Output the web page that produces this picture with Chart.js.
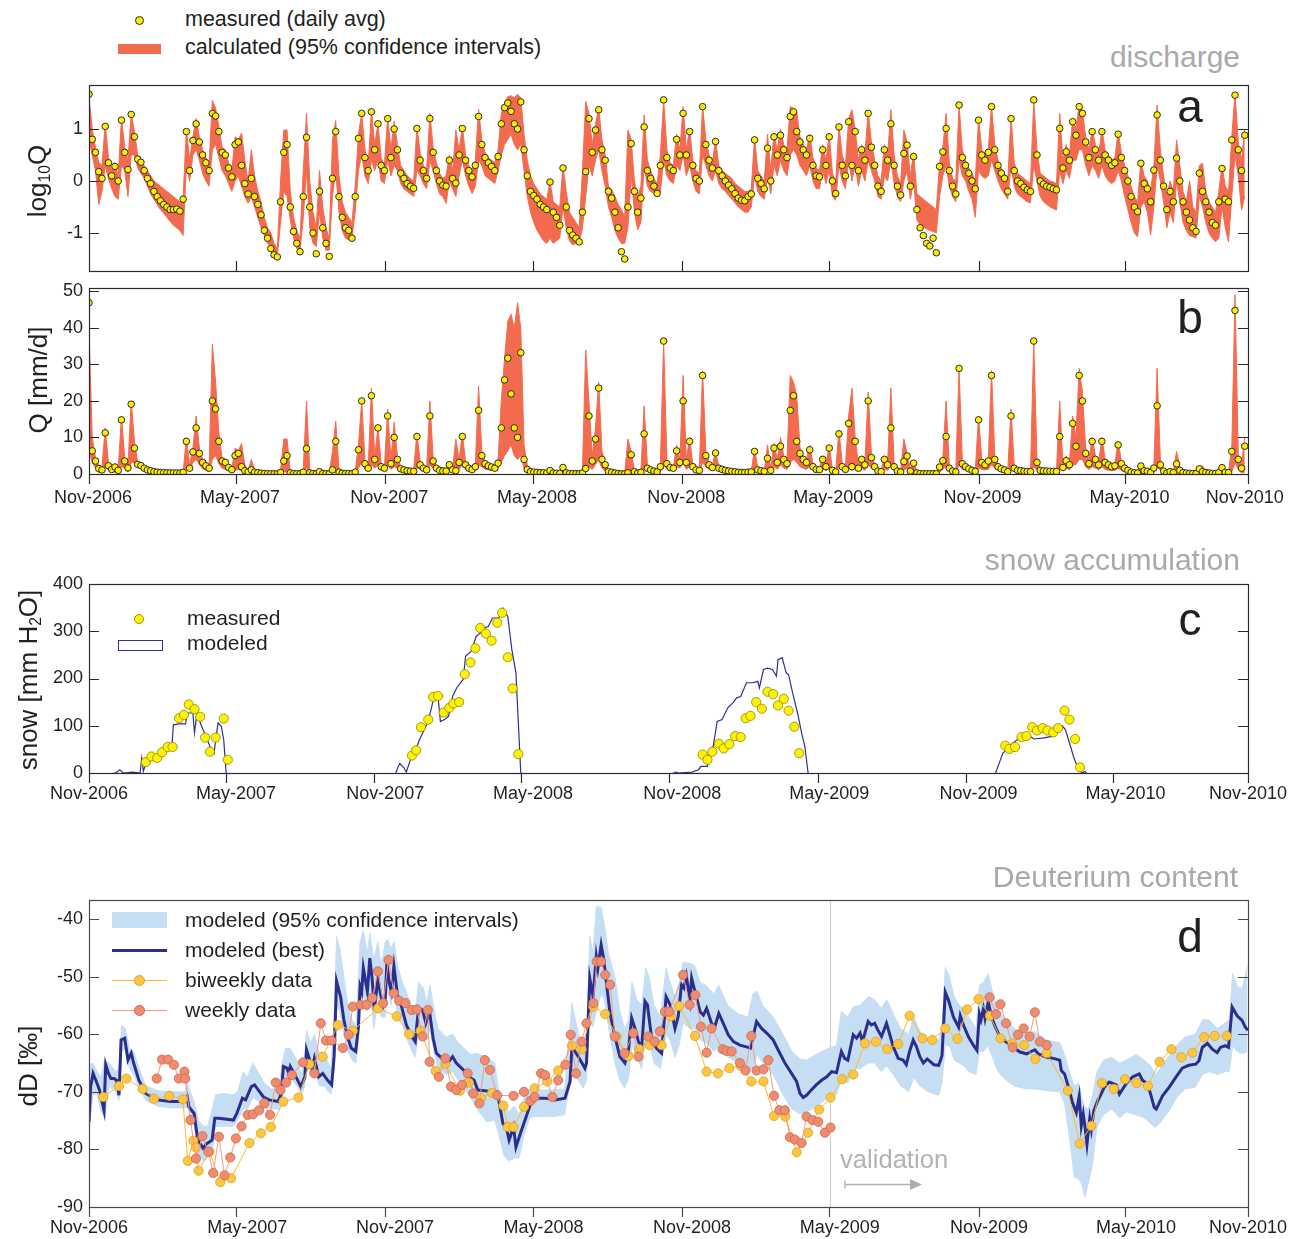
<!DOCTYPE html>
<html><head><meta charset="utf-8">
<script src="https://cdn.jsdelivr.net/npm/chart.js@4.4.1/dist/chart.umd.min.js"></script>
<style>
html,body{margin:0;padding:0;background:#fff;}
body{width:1297px;height:1239px;position:relative;overflow:hidden;font-family:"Liberation Sans",Arial,Helvetica,sans-serif;color:#231f20;}
canvas{position:absolute;left:0;}
.t{position:absolute;white-space:nowrap;line-height:1;}
.title{color:#a7a9ac;font-size:30px;}
.letter{font-size:46px;transform:translateX(-50%);}
.legA{font-size:21.5px;}
.leg{font-size:21px;}
.yt{font-size:26px;transform:translate(-50%,-50%) rotate(-90deg);}
.sw{position:absolute;box-sizing:border-box;}
sub{font-size:0.6em;vertical-align:-0.25em;line-height:0;}
</style></head>
<body>
<canvas id="ca" width="1297" height="200" style="top:80px"></canvas>
<canvas id="cb" width="1297" height="230" style="top:280px"></canvas>
<canvas id="cc" width="1297" height="235" style="top:575px"></canvas>
<canvas id="cd" width="1297" height="349" style="top:890px"></canvas>

<!-- legend a -->
<div class="sw" style="left:134.5px;top:15.5px;width:9px;height:9px;border-radius:50%;background:#FFEC00;border:1px solid #2b2b2b"></div>
<div class="sw" style="left:118px;top:44px;width:43px;height:10px;background:#F36B4E"></div>
<div class="t legA" style="left:185px;top:9px">measured (daily avg)</div>
<div class="t legA" style="left:185px;top:37px">calculated (95% confidence intervals)</div>

<div class="t title" style="right:57px;top:42px">discharge</div>
<div class="t title" style="right:57px;top:545px">snow accumulation</div>
<div class="t title" style="right:59px;top:862px">Deuterium content</div>

<div class="t letter" style="left:1190px;top:83px">a</div>
<div class="t letter" style="left:1190px;top:294px">b</div>
<div class="t letter" style="left:1190px;top:596px">c</div>
<div class="t letter" style="left:1190px;top:913px">d</div>

<div class="t yt" style="left:37px;top:181px">log<sub>10</sub>Q</div>
<div class="t yt" style="left:38px;top:380px">Q [mm/d]</div>
<div class="t yt" style="left:28px;top:680px">snow [mm H<sub>2</sub>O]</div>
<div class="t yt" style="left:28px;top:1066px">dD [‰]</div>

<!-- legend c -->
<div class="sw" style="left:134px;top:614px;width:10px;height:10px;border-radius:50%;background:#FFF200;border:1px solid #9a8f00"></div>
<div class="sw" style="left:118px;top:640px;width:45px;height:11px;border:1px solid #2E3192;background:#fff"></div>
<div class="t leg" style="left:187px;top:607px">measured</div>
<div class="t leg" style="left:187px;top:632px">modeled</div>

<!-- legend d -->
<div class="sw" style="left:112px;top:912px;width:55px;height:16px;background:#C6DEF3"></div>
<div class="sw" style="left:112px;top:948.5px;width:55px;height:3px;background:#2B2E8C"></div>
<div class="sw" style="left:112px;top:979.5px;width:55px;height:1px;background:#FBB92F"></div>
<div class="sw" style="left:133.5px;top:974.5px;width:11px;height:11px;border-radius:50%;background:#FDC640;border:1px solid #D9A02A"></div>
<div class="sw" style="left:112px;top:1009.5px;width:55px;height:1px;background:#F29A80"></div>
<div class="sw" style="left:133.5px;top:1004.5px;width:11px;height:11px;border-radius:50%;background:#EF8B6E;border:1px solid #C9694F"></div>
<div class="t leg" style="left:185px;top:909px">modeled (95% confidence intervals)</div>
<div class="t leg" style="left:185px;top:939px">modeled (best)</div>
<div class="t leg" style="left:185px;top:969px">biweekly data</div>
<div class="t leg" style="left:185px;top:999px">weekly data</div>

<div class="t" style="left:840px;top:1147px;font-size:25.6px;color:#b3b3b3">validation</div>

<script>
// ---------- x axis (days since 1 Nov 2006) ----------
const XMAX = 1428;
const monthLabels = ['Nov-2006','May-2007','Nov-2007','May-2008','Nov-2008','May-2009','Nov-2009','May-2010','Nov-2010'];
const stdTickDays = [0,181,365,547,731,912,1096,1277,1428];
const snowTickDays = [0,169,351,532,715,898,1081,1262,1428];
const bLabelDays = [5,186,370,552,736,917,1101,1282,1424];
const cLabelDays = [0,181,365,547,731,912,1096,1277,1428];
const dLabelDays = [0,195,377,560,743,925,1109,1290,1428];
const validationDay = 913;

// ---------- panel a/b : discharge, one value every 4 days ----------
const qStepDays = 4;
const logQMeasured = [
1.67,0.8,0.55,0.18,0.05,1.05,0.35,0.1,0.28,0.0,
1.17,0.55,0.22,1.28,0.85,0.42,0.36,0.2,0.05,-0.05,
-0.2,-0.3,-0.38,-0.45,-0.5,-0.55,-0.55,-0.54,-0.58,-0.35,
0.95,0.2,0.78,1.1,0.75,0.5,0.35,0.2,1.3,1.25,
0.95,0.55,0.5,0.25,0.08,0.7,0.75,0.3,-0.05,-0.25,
0.05,-0.3,-0.45,-0.65,-0.95,-1.1,-1.3,-1.42,-1.46,-0.4,
0.55,0.7,-0.5,-0.97,-1.2,-1.36,-0.3,0.84,-0.5,-1.0,
-1.4,-0.2,-0.9,-1.2,-1.45,0.05,0.95,-0.3,-0.7,-0.9,
-0.95,-1.1,-0.3,0.82,1.3,0.45,0.2,1.33,0.6,1.1,
0.3,0.2,1.2,0.45,1.0,0.6,0.15,0.05,-0.05,-0.1,
-0.14,1.01,0.4,0.2,0.05,1.2,0.55,0.2,0.0,-0.08,
-0.1,0.4,0.05,-0.04,0.5,1.01,0.4,0.2,0.08,0.3,
1.24,0.7,0.45,0.35,0.28,0.2,0.47,1.1,1.41,1.5,
1.34,1.1,1.0,1.52,0.6,0.1,-0.2,-0.28,-0.35,-0.45,
-0.5,-0.55,-0.02,-0.6,-0.7,-0.85,0.25,-0.5,-0.95,-1.04,
-1.1,-1.17,-0.6,0.18,1.2,0.55,0.98,1.37,0.6,0.4,
-0.2,-0.33,-0.6,-0.9,-1.36,-1.5,-0.5,0.72,-0.2,-0.6,
-0.33,1.04,0.2,0.05,-0.1,-0.24,0.3,1.56,0.45,0.25,
0.2,0.8,0.5,1.3,0.5,0.95,0.3,0.05,0.0,1.43,
0.7,0.4,0.25,0.76,0.2,0.1,0.0,-0.08,-0.15,-0.24,
-0.33,-0.37,-0.38,-0.3,-0.25,0.79,0.05,-0.05,-0.15,0.63,
0.0,0.85,0.5,0.88,0.6,0.45,1.24,1.33,0.95,0.75,
0.6,0.5,0.82,0.3,0.1,0.08,0.6,0.3,0.85,0.0,
-0.24,1.04,0.3,0.1,1.14,0.3,0.95,0.2,0.6,0.4,
1.3,0.65,0.3,-0.1,-0.2,0.6,0.4,1.1,0.3,-0.1,
-0.27,0.53,0.69,-0.1,0.47,-0.55,-0.9,-1.05,-1.2,-1.25,
-1.1,-1.38,0.28,0.56,1.01,0.2,-0.1,-0.25,1.46,0.45,
0.3,0.15,0.0,-0.15,1.17,0.5,0.4,0.55,1.43,0.6,
0.3,0.15,0.05,-0.2,1.2,0.2,0.0,-0.05,-0.12,-0.17,
-0.2,1.56,0.5,0.0,-0.06,-0.1,-0.12,-0.15,-0.17,1.01,
0.25,0.56,0.4,1.14,0.88,1.43,1.3,0.75,0.45,0.95,
0.6,0.4,0.95,0.5,0.4,0.3,0.35,0.9,0.45,0.2,
0.0,-0.3,-0.5,-0.59,0.34,-0.05,-0.15,-0.4,0.21,1.27,
0.4,-0.1,-0.55,-0.2,-0.4,0.44,0.0,-0.4,-0.6,-0.75,
-0.9,-0.97,0.15,-0.2,-0.4,-0.6,-0.8,-0.85,-0.4,0.24,
-0.35,-0.4,0.79,1.65,0.6,0.2,0.88];
const logQHigh = [
1.6,1.0,0.65,0.35,0.3,1.1,0.45,0.2,0.35,0.1,
1.2,0.65,0.4,1.3,0.95,0.5,0.4,0.3,0.2,0.1,
0.0,-0.05,-0.1,-0.15,-0.2,-0.25,-0.3,-0.35,-0.4,-0.3,
1.0,0.4,0.85,1.2,0.85,0.6,0.45,0.35,1.55,1.4,
1.05,0.65,0.6,0.35,0.2,0.85,0.8,0.92,0.4,0.0,
0.6,0.1,-0.2,-0.4,-0.7,-0.9,-1.0,-1.2,-1.3,0.0,
0.98,0.98,-0.2,-0.7,-0.95,-1.1,0.2,1.3,0.0,-0.6,
-0.9,0.2,-0.5,-0.9,-1.1,0.79,1.16,0.1,-0.4,-0.6,
-0.7,-0.8,-0.1,0.9,1.3,0.6,0.3,1.37,0.7,1.1,
0.45,0.3,1.25,0.6,1.15,0.7,0.3,0.2,0.1,0.05,
0.0,1.05,0.55,0.3,0.2,1.3,0.65,0.35,0.15,0.05,
0.1,0.5,0.2,0.98,0.6,1.05,0.5,0.3,0.2,0.4,
1.38,0.8,0.55,0.45,0.4,0.35,0.6,1.3,1.5,1.62,
1.64,1.6,1.67,1.6,0.9,0.4,0.1,-0.05,-0.15,-0.25,
-0.3,-0.35,0.0,-0.4,-0.45,-0.5,0.3,-0.2,-0.6,-0.7,
-0.8,-0.9,0.2,1.53,1.3,0.7,1.1,1.4,0.8,0.5,
-0.1,-0.17,-0.3,-0.45,-0.55,-0.7,0.98,0.8,0.0,-0.3,
-0.1,1.27,0.4,0.2,0.05,-0.05,0.5,1.56,0.6,0.35,
0.3,0.9,0.6,1.43,0.6,1.0,0.4,0.2,0.15,1.45,
0.8,0.5,0.35,0.8,0.3,0.2,0.15,0.1,0.05,-0.05,
-0.1,-0.15,-0.2,-0.2,-0.15,0.85,0.2,0.1,0.0,0.9,
0.2,0.92,0.6,1.0,0.7,0.6,1.43,1.4,1.33,0.85,
0.7,0.6,0.9,0.45,0.25,0.2,0.7,0.4,0.9,0.15,
-0.05,1.08,0.5,0.3,1.2,1.37,1.0,0.4,0.7,0.5,
1.35,0.75,0.4,0.1,0.0,0.7,0.5,1.37,0.5,0.1,
-0.05,0.98,0.75,0.1,0.55,-0.24,-0.3,-0.35,-0.4,-0.45,
-0.5,-0.55,0.35,0.65,1.3,0.35,0.05,0.0,1.46,0.6,
0.4,0.25,0.15,0.0,1.2,0.6,0.5,0.6,1.45,0.7,
0.4,0.25,0.15,0.0,1.25,0.35,0.15,0.1,0.05,0.0,
-0.05,1.56,0.6,0.15,0.1,0.05,0.0,-0.02,-0.05,1.3,
0.4,0.7,0.5,1.2,1.0,1.46,1.35,0.85,0.6,1.0,
0.7,0.5,1.0,0.6,0.5,0.4,0.45,0.95,0.55,0.3,
0.1,-0.1,-0.3,-0.4,0.4,0.1,0.0,-0.2,0.3,1.46,
0.6,0.1,-0.3,0.0,-0.2,0.79,0.3,-0.2,-0.4,0.0,
-0.5,-0.6,0.3,0.34,-0.2,-0.4,-0.5,-0.6,-0.2,0.3,
-0.1,-0.2,0.85,1.69,0.75,0.4,1.0];
const logQLow = [
0.8,0.5,0.2,-0.45,-0.2,0.3,0.05,-0.15,-0.3,-0.35,
0.3,0.2,-0.3,0.5,0.5,0.25,0.15,0.05,-0.1,-0.25,
-0.35,-0.45,-0.55,-0.62,-0.7,-0.78,-0.85,-0.9,-0.95,-1.05,
0.3,0.0,0.5,0.6,0.4,0.15,0.0,-0.1,0.6,0.7,
0.45,0.2,0.1,-0.05,-0.2,0.0,0.1,-0.1,-0.3,-0.43,
-0.3,-0.5,-0.7,-0.9,-1.05,-1.2,-1.25,-1.35,-1.45,-0.8,
-0.2,-0.3,-0.75,-1.1,-1.3,-1.35,-0.7,0.2,-0.9,-1.2,
-1.26,-0.6,-1.1,-1.33,-1.33,-0.3,0.2,-0.6,-0.95,-1.1,
-1.13,-1.1,-0.6,0.2,0.5,0.1,-0.05,0.4,0.2,0.4,
0.0,-0.05,0.4,0.1,0.3,0.2,-0.05,-0.15,-0.2,-0.25,
-0.3,0.2,0.1,-0.05,-0.15,0.4,0.2,-0.05,-0.25,-0.3,
-0.43,0.0,-0.15,-0.3,0.1,0.4,0.1,-0.1,-0.24,-0.1,
0.4,0.3,0.1,0.05,0.0,-0.05,0.2,0.5,0.7,0.8,
0.9,0.7,0.6,0.7,0.2,-0.3,-0.6,-0.8,-0.95,-1.05,
-1.15,-1.2,-1.1,-1.2,-1.15,-1.1,-0.5,-0.9,-1.15,-1.23,
-1.2,-1.2,-0.9,-0.3,0.3,0.1,0.4,0.6,0.2,-0.1,
-0.5,-0.7,-0.95,-1.1,-1.2,-1.2,-0.9,0.1,-0.6,-0.94,
-0.8,0.3,-0.1,-0.2,-0.24,-0.3,-0.2,0.4,0.1,0.0,
-0.05,0.3,0.2,0.5,0.1,0.3,0.0,-0.2,-0.25,0.5,
0.3,0.1,0.0,0.2,-0.05,-0.15,-0.2,-0.28,-0.35,-0.42,
-0.5,-0.55,-0.6,-0.6,-0.5,0.1,-0.2,-0.3,-0.35,0.1,
-0.25,0.3,0.1,0.4,0.2,0.1,0.5,0.6,0.5,0.3,
0.2,0.1,0.3,0.0,-0.15,-0.15,0.2,-0.05,0.2,-0.3,
-0.37,0.3,0.0,-0.15,0.4,0.0,0.3,-0.1,0.2,0.0,
0.4,0.2,0.0,-0.3,-0.35,0.1,0.0,0.4,-0.05,-0.3,
-0.4,0.0,0.2,-0.35,0.0,-0.75,-0.85,-0.88,-0.92,-0.95,
-0.97,-1.0,-0.3,0.1,0.3,-0.1,-0.3,-0.4,0.4,0.1,
0.0,-0.2,-0.35,-0.7,0.2,0.1,0.05,0.1,0.4,0.2,
0.0,-0.15,-0.25,-0.35,0.3,-0.1,-0.25,-0.3,-0.35,-0.4,
-0.42,0.3,0.0,-0.3,-0.4,-0.45,-0.5,-0.53,-0.56,0.2,
-0.05,0.2,0.05,0.4,0.4,0.6,0.6,0.3,0.1,0.3,
0.2,0.05,0.3,0.1,0.0,-0.05,0.0,0.2,0.0,-0.3,
-0.55,-0.8,-1.0,-1.07,-0.5,-0.4,-0.6,-1.04,-0.5,0.3,
0.0,-0.4,-0.9,-0.6,-0.8,0.0,-0.4,-0.8,-0.95,-1.05,
-1.07,-1.1,-0.3,-0.5,-0.8,-1.0,-1.1,-1.17,-1.1,-0.5,
-0.9,-1.17,-0.3,0.5,0.1,-0.56,-0.3];
const logTicks = [-1,0,1];
const qTicks = [0,10,20,30,40,50];

// ---------- panel c : snow ----------
const snowObsDays = [70,77,84,90,97,103,111,117,123,130,137,143,149,156,166,171,
 398,403,409,418,424,430,437,444,449,456,463,470,476,482,489,496,503,509,516,522,529,
 756,762,768,776,782,789,796,803,809,815,822,829,836,843,849,856,862,869,875,
 1129,1134,1141,1149,1155,1162,1168,1175,1181,1188,1194,1202,1208,1215,1221];
const snowObsVals = [23,35,32,44,55,55,116,123,145,135,119,75,45,75,115,28,
 37,48,97,113,161,163,128,138,147,150,209,234,264,307,295,280,318,339,245,179,40,
 39,28,45,62,52,61,78,76,116,121,150,136,172,167,143,157,132,98,42,
 58,51,55,76,78,97,90,95,90,86,95,132,113,72,12];
const snowModDays = [30,33,38,42,54,63,65,67,70,77,84,90,97,102,104,111,119,121,128,130,133,138,144,149,154,159,163,166,169,
 250,
 378,381,383,388,391,396,401,407,412,417,422,425,430,433,438,443,448,453,461,464,471,477,482,487,492,497,505,510,516,521,526,532,
 620,
 720,723,726,743,751,754,762,764,769,774,780,782,787,793,798,803,810,818,824,826,831,836,842,847,849,854,859,862,867,873,878,882,886,
 1000,
 1117,1120,1126,1131,1136,1144,1149,1154,1164,1175,1188,1193,1199,1203,1208,1213,1219,1224,1227,1229];
const snowModVals = [0,0,7,0,2,0,32,4,20,28,32,42,48,52,102,104,104,127,127,85,127,102,78,56,42,106,99,70,0,
 null,
 0,14,20,11,2,28,42,70,88,106,138,162,162,109,113,120,162,180,198,247,258,289,296,307,310,328,328,349,331,261,212,0,
 null,
 0,2,0,2,7,14,14,42,56,109,113,120,138,148,159,162,191,191,194,180,219,222,219,205,240,244,212,208,169,127,85,56,0,
 null,
 0,14,42,49,60,71,74,85,72,74,78,85,100,92,64,35,7,0,3,0];
const snowTicks = [0,100,200,300,400];

// ---------- panel d : deuterium ----------
const dBandDays = [0,5,10,15,19,25,33,37,40,45,50,55,62,70,85,100,118,121,125,130,
 135,141,146,152,156,165,178,183,190,195,202,208,216,225,234,238,242,248,256,262,
 266,268,273,278,284,290,298,302,305,309,314,319,324,329,332,334,338,343,346,351,
 356,360,365,368,372,376,380,386,392,398,402,406,412,416,420,425,430,440,448,455,
 463,470,478,490,500,506,511,517,524,530,536,543,550,570,586,592,595,603,609,613,
 617,621,625,631,635,640,648,654,660,665,669,675,681,686,690,696,704,711,716,722,
 727,732,740,746,753,760,770,776,787,800,812,818,823,830,843,857,866,876,884,896,
 910,921,927,935,942,950,960,968,976,983,991,1000,1010,1016,1024,1034,1047,1051,1055,1060,
 1066,1072,1078,1084,1093,1097,1102,1108,1113,1120,1130,1140,1155,1165,1180,1196,1202,1208,1214,1219,
 1223,1227,1231,1236,1242,1250,1260,1270,1278,1290,1300,1308,1314,1322,1332,1340,1350,1363,1372,1380,
 1390,1400,1405,1409,1415,1421,1427];
const dBandLow = [-76.5,-70.5,-70.5,-73.5,-74.5,-69,-70,-71.5,-63,-62.5,-66,-67,-69.5,-71.5,-72.5,-72.8,-72.8,-72.5,-74.5,-76,
 -81,-82,-81.5,-80.5,-76,-76,-76,-75,-73,-73,-71,-71.5,-72.5,-73,-73,-72,-67.5,-67.5,-69,-70.5,
 -69,-64.5,-66.5,-66,-69,-69,-70.5,-66,-55,-56,-60,-63,-64.5,-65,-61,-56,-53,-56,-52,-59,
 -54,-57,-57,-52,-55,-51.5,-57,-58,-61,-63,-64,-59,-59,-61,-59,-63,-66,-67,-66.5,-68,
 -69.5,-71,-73,-75.2,-75,-78,-81,-82,-81.5,-81.5,-77.5,-74.5,-74.3,-74.3,-74,-69,-66.8,-68,-69.4,-68,
 -57,-58.7,-56,-53,-54,-58.7,-65,-68,-69.4,-67.5,-62,-64,-66,-60,-61,-65,-66,-60,-61,-64,
 -62,-58,-59,-59,-61,-61.5,-63,-62,-64,-65,-66,-66,-63.5,-65,-67,-71,-73,-73.8,-73.5,-72.6,
 -71,-70.5,-68,-68.5,-66,-66,-65,-65,-66.5,-65.5,-67,-69,-70,-67.5,-69,-70,-70.6,-68.5,-62,-62,
 -64.5,-65,-65.5,-66.5,-67,-63,-63,-62,-64,-66.5,-68,-69,-69.5,-69.5,-69.8,-70,-72,-78,-84.9,-85,
 -86,-88.3,-86,-83,-76,-74,-73,-74.5,-73.5,-74,-74.5,-75.5,-76.2,-75,-73,-71,-69.5,-69.2,-67,-66.5,
 -67,-66.5,-66.5,-62,-63,-63.4,-63];
const dBandHigh = [-65.5,-65,-66.5,-67.5,-64.5,-65,-66.5,-66,-58.5,-59,-62.5,-63,-66,-69,-69.8,-70,-70,-68.5,-70,-72,
 -75,-76,-76,-73,-70.5,-70.3,-70.5,-70,-66.5,-67.5,-65,-66.5,-68.5,-69.5,-69.5,-65,-62.5,-62.5,-64.5,-67,
 -63,-59.3,-61.5,-60,-63.5,-63.5,-66,-58,-43,-45,-50,-55,-57.5,-58.5,-50,-44,-42,-46,-42.5,-47,
 -44,-48,-44,-43.5,-45,-44,-48,-51,-53,-56,-56.5,-51,-52,-54.5,-51.5,-55.5,-59,-60.5,-60,-61.5,
 -62.5,-63.5,-63.3,-64,-65,-71,-72,-73.5,-72.5,-74,-71,-69.5,-69.7,-69.7,-69.5,-60,-54.6,-60,-62,-60,
 -43,-46,-37.8,-38,-41,-46,-50,-56,-59,-57.5,-51,-54,-55,-48.5,-50,-55,-57,-48.5,-51,-53.5,
 -51,-47.5,-47.7,-48,-51,-51.5,-53,-51.5,-55,-56.5,-57,-53,-52.5,-55,-57,-60.5,-63,-64.3,-64.5,-63.5,
 -62.5,-62,-56,-57,-55.2,-55,-53.5,-54,-55.5,-54,-56.5,-59,-60,-57,-59.5,-61,-61,-58.5,-48.4,-50,
 -53.5,-55,-55.5,-57,-59,-51.5,-51,-49.5,-52.5,-56,-57.5,-59,-60,-59.5,-61,-61.5,-63.5,-66.5,-69,-68.5,
 -71,-72.7,-73,-71,-66.5,-64.5,-64,-65,-64.5,-63.5,-64.5,-65.5,-67,-65.5,-63.5,-62,-60.5,-60,-57.5,-57.5,
 -59,-58,-57.5,-49.5,-51.8,-52,-48.3];
const dBestDays = [0,2,5,9,13,18.5,20.6,24,27,31,
 34,37,39.5,44,48,52,55,61.5,70,83.5,
 101,118.6,121,123,129.6,134,140.6,145,151.6,155,
 160,178,182,189,193,200,204,208.7,215,222,
 233,237,239.5,244,246,248,255,261,266,268,
 272,274.6,277.7,283,288,294,299,302,305,310,
 314,318.5,323,328.6,332,334,336,338,343,346,
 349,351.5,356,359,362.5,364.7,367,370,372.6,375.7,
 380,384,391,397.6,402,406,411,415,419.6,424,
 428,435,443,448,452.5,459,463.5,468,474.5,479,
 487.7,496.5,503,510,514,517.6,523,526,531.6,538,
 545,551,562,574,586.5,592.7,595,603,611,613,
 617,621,625,627,631,634,638,642,648,654,
 660.4,664.5,668.6,672.7,677,681,685,688,693,699,
 705.5,711,716,722,726,730,733,736,740.4,742.5,
 746.6,753,757,761,767,771,776,781.5,787.6,794,
 802,810,815,822.5,828.7,835,843,849,857.4,865.6,
 871.8,876,880,884,890,896,902.6,909,915,921,
 927,931,935,941.6,945.7,950,953,960,964,968,
 972,976.5,982.6,986.7,991,997,1003,1007,1011,1015.5,
 1019.6,1023.7,1028,1032.7,1041,1047,1051,1055,1059,1065,
 1071.5,1073.5,1077.6,1083.7,1090,1094,1097,1099,1102,1104,
 1108,1112,1116,1122.5,1130.7,1139,1147,1155,1165.4,1169.5,
 1180,1188,1196,1198,1202,1208,1211.6,1216.5,1220,1222.6,
 1225,1227,1229.6,1233,1235,1238,1243,1247,1251,1257,
 1265.5,1269.6,1277.8,1286,1294,1298,1304,1308,1312.5,1315,
 1322.7,1331,1339,1347,1355,1363.6,1367.6,1371.7,1378,1384,
 1390,1394,1400,1404,1408.5,1414.6,1420.7,1424.8,1428];
const dBestVals = [-75.2,-69.1,-66.8,-68.2,-69.7,-73.2,-65.3,-66.8,-67.7,-67.7,
 -68,-70.6,-61,-60.7,-64.5,-63.3,-65,-68,-70.3,-71.4,
 -71.7,-71.7,-70.9,-72.6,-73.8,-78.4,-79.8,-79,-78.4,-74.6,
 -74.6,-74.9,-73.8,-71.1,-71.4,-69.1,-68.8,-69.7,-70.9,-71.4,
 -71.7,-70.3,-65.6,-65.9,-66.8,-65.6,-67.4,-69.1,-67.4,-62.7,
 -64.5,-66.2,-64.2,-67.4,-66.8,-68,-68.8,-63.9,-50.8,-53.5,
 -57.5,-60.4,-62.4,-63,-58.7,-51.7,-52.6,-48.5,-52.6,-46.8,
 -50.6,-55.8,-50.3,-52.9,-55.2,-54.6,-47.7,-51.1,-52.6,-48.2,
 -53.2,-54.6,-58.4,-60.4,-61.3,-55.5,-55.8,-58.1,-56.1,-60.7,
 -63.3,-64.2,-64.8,-63.9,-65,-65.9,-66.5,-67.4,-68,-69.7,
 -69.8,-70,-70,-75.5,-76.1,-78.4,-76.1,-79.6,-77.2,-74.6,
 -71.7,-71.1,-71.1,-71.4,-71.1,-68.2,-62.2,-63.9,-65.9,-65,
 -50.3,-53.5,-46.5,-48.5,-44.5,-46.8,-51.7,-56.4,-60.4,-63.9,
 -65,-63,-57.2,-59,-61.3,-62.2,-54.3,-54.9,-60.4,-62.4,
 -63.3,-53.5,-54.9,-59,-56.9,-51.4,-52,-49.9,-54,-50.3,
 -52.6,-56.1,-56.7,-55.5,-58.1,-58.7,-56.4,-58.1,-60.1,-61.3,
 -61.9,-62.2,-62.4,-57.8,-59,-59.8,-61,-62.7,-65,-66.8,
 -68.2,-70.3,-71,-70.6,-69.7,-68.8,-68,-67.4,-66.5,-66.7,
 -63,-64.2,-64.5,-60.1,-60.7,-59.8,-61.3,-57.8,-58.4,-58.1,
 -59.3,-60.4,-58.1,-60.1,-62.2,-64.2,-64.5,-65.3,-63,-61,
 -62.2,-63.9,-65,-64.3,-65.3,-65.4,-63.7,-52.7,-54.1,-57,
 -58.8,-56.8,-58.5,-60.5,-62,-62.8,-56.5,-57.5,-55.6,-57.3,
 -54.4,-57,-58.5,-60.5,-61.4,-62.3,-63.1,-63.4,-62.7,-63.4,
 -64,-64.2,-64.5,-66.3,-66.9,-69.8,-71.8,-73.6,-70.8,-75.9,
 -73.9,-75.9,-79.1,-74.7,-76.5,-73.3,-71.5,-70.4,-69.2,-68.3,
 -68.8,-70.4,-68.6,-67.4,-66.9,-68,-68.6,-70.4,-72.7,-73,
 -70.7,-69.2,-67.5,-65.9,-65.4,-65.2,-64.6,-62.3,-61.6,-62.6,
 -63.2,-62.3,-62,-62.3,-55.3,-56.8,-57.6,-58.8,-59.3];
const biweeklyDays = [17.6,37,46,66,80,99,115.6,121.7,128.7,131.8,
 135,148.5,161.7,175,197.7,211.8,224,239.5,258,271.5,
 288,306.7,325,356,379,394.5,408.6,427,439,457,
 468,483,496.5,510.5,516,523,536,549,564.6,578,
 595,607,621.4,636,650,664.5,678,691,705.5,717,
 727,746.6,761,775,789,803,816,831,844,858,
 872,886,899.7,913.7,928,941.6,956,969.5,983.5,997,
 1011,1027,1039,1055,1070,1081.7,1096,1110,1123,1137.7,
 1152,1166,1180,1206,1220.6,1235,1248,1262.7,1276.5,1290.8,
 1304.7,1319,1333.7,1346,1359.5,1374,1387,1402];
const biweeklyVals = [-70.9,-69,-67.7,-69.5,-71.2,-70.7,-71.3,-82,-78.5,-79.7,
 -83.7,-80.4,-85.7,-85,-78.9,-77.2,-76.1,-71.7,-71,-65.2,
 -63.9,-58.4,-59.4,-55.5,-56.9,-60,-59.4,-66.4,-65.2,-69.8,
 -68.4,-71.1,-70.2,-72.4,-76.1,-76.1,-72.6,-69.4,-68.2,-66.3,
 -62,-62.6,-55.2,-56.5,-60.4,-63.8,-62.6,-61.9,-61.9,-56.9,
 -55.1,-60.3,-66.5,-66.8,-65.9,-65.5,-68.2,-68.2,-74.2,-74.3,
 -80.5,-77.1,-73.1,-71,-67.8,-67,-61.6,-61.3,-62.6,-61.7,
 -56.8,-60.7,-61,-59,-60.8,-55.7,-53.9,-56.8,-60.7,-61.6,
 -61.9,-64.3,-63.3,-69.8,-79,-75.9,-68.5,-69.5,-67.8,-68.5,
 -69,-64.8,-62.6,-64,-63.2,-60.5,-60.3,-60.3];
const weeklyDays = [83.5,90,97.5,104.6,110.7,117.7,118.6,125,131.8,139.7,
 147,153,160,167,174,181,188,195.5,202,209.6,
 216,223,230,236,243,250,263.6,277.7,285.6,292,
 298.8,312.8,320,325,335,342,349,356,362.5,369,
 375.7,382,390,397.6,404,411,417.4,419.6,431,439,
 446,452.5,459.6,466.6,473.6,481,487.7,494,503,523,
 536,544,549,557,562,571,578,587,593.5,600,
 607,613,621.4,625.5,631,636,642,648,660,670.7,
 677,689,697,703.5,709.7,715,732,740,747,754,
 761,767,780.7,785.6,791.8,802,809,816,822.5,831,
 837,844,850.6,857.4,863.6,869.8,878,884,891.5,898.5,
 906.7,913.7,1000,1109.5,1117.6,1123,1130,1138,1144.6,1151.6,
 1159,1165.4,1171.6,1180];
const weeklyVals = [-67.7,-64.4,-64.4,-65.3,-67.7,-66.5,-67.7,-74.9,-81.6,-77.7,
 -80.4,-84.1,-77.8,-84.5,-81.4,-78.1,-76,-74,-73.9,-73.2,
 -72,-74,-68.4,-69.7,-68.4,-67.1,-64.9,-66.8,-58.1,-61.1,
 -61.1,-62.4,-60.1,-55.2,-54.9,-54.9,-53.7,-49.1,-54.6,-47.1,
 -52.9,-54.2,-54.6,-55.8,-55.7,-60.4,-55.8,-64.8,-67.4,-64.2,
 -69.1,-69.7,-68.8,-66.8,-70.3,-72,-64.5,-66.2,-70.6,-70.7,
 -70,-71.6,-70.9,-66.8,-67.1,-70.9,-68,-65.3,-60.1,-66.8,
 -61.3,-58.1,-54.6,-47.4,-47.4,-49.7,-51.4,-60.4,-63.3,-59.8,
 -63.9,-60.4,-61.3,-59.5,-56.1,-56.1,-49.7,-54.9,-53.2,-58.7,
 -63.2,-59,-62.6,-62.9,-63,-65,-66.3,-60.3,-66.3,-66.1,
 -64.5,-70.7,-73.2,-73.2,-77.9,-78.3,-78.9,-74.3,-74.9,-75.2,
 -77.1,-76.2,null,-53.6,-56.5,-54.8,-58.1,-62.3,-60.1,-59,
 -60.4,-56.2,-61.3,-61.9];
const dTicks = [-90,-80,-70,-60,-50,-40];

// ---------- helpers ----------
const INK = '#231f20';
Chart.defaults.font.family = '"Liberation Sans", Arial, Helvetica, sans-serif';
const pts = (xs, ys) => xs.map((x, i) => ({x: x, y: ys[i]}));
const qDays = logQMeasured.map((_, i) => i * qStepDays);
const toQ = v => Math.pow(10, v);

function framePlugin(o) {
  return {
    id: 'frame',
    beforeDatasetsDraw(chart) {
      if (o.vline == null) return;
      const {ctx, chartArea: a, scales: {x}} = chart;
      const px = Math.round(x.getPixelForValue(o.vline)) + 0.5;
      ctx.save(); ctx.strokeStyle = '#cfcfcf'; ctx.lineWidth = 1.2;
      ctx.beginPath(); ctx.moveTo(px, a.top); ctx.lineTo(px, a.bottom); ctx.stroke();
      ctx.restore();
    },
    afterDraw(chart) {
      const {ctx, chartArea: a, scales: {x, y}} = chart;
      ctx.save();
      ctx.strokeStyle = o.frameColor; ctx.lineWidth = 1.2;
      ctx.strokeRect(Math.round(a.left) + 0.5, Math.round(a.top) + 0.5, Math.round(a.right - a.left), Math.round(a.bottom - a.top));
      ctx.beginPath();
      o.yTicks.forEach(v => {
        const p = Math.round(y.getPixelForValue(v)) + 0.5;
        ctx.moveTo(a.left, p); ctx.lineTo(a.left + 10, p);
        ctx.moveTo(a.right - 10, p); ctx.lineTo(a.right, p);
      });
      o.xMarks.forEach(d => {
        const p = Math.round(x.getPixelForValue(d)) + 0.5;
        ctx.moveTo(p, a.bottom);
        ctx.lineTo(p, o.xInward ? a.bottom - 10 : a.bottom + 10);
      });
      ctx.stroke();
      if (o.vline != null) {
        const px = x.getPixelForValue(o.vline);
        const yy = Math.round(a.bottom - 23) + 0.5;
        const x0 = px + 15, x1 = px + 92;
        ctx.strokeStyle = '#b0b0b0'; ctx.fillStyle = '#b0b0b0'; ctx.lineWidth = 1.3;
        ctx.beginPath(); ctx.moveTo(x0, yy); ctx.lineTo(x1 - 10, yy);
        ctx.moveTo(x0, yy - 4); ctx.lineTo(x0, yy + 4); ctx.stroke();
        ctx.beginPath(); ctx.moveTo(x1 - 12, yy - 5.5); ctx.lineTo(x1, yy); ctx.lineTo(x1 - 12, yy + 5.5); ctx.closePath(); ctx.fill();
      }
      ctx.restore();
    }
  };
}

function mk(id, cfg) {
  return new Chart(document.getElementById(id), {
    type: 'line',
    data: {datasets: cfg.datasets},
    options: {
      responsive: false, animation: false, devicePixelRatio: 1, events: [],
      layout: {padding: {top: cfg.top, right: 49, bottom: 0, left: 0}},
      plugins: {legend: {display: false}, tooltip: {enabled: false}},
      scales: {
        x: {type: 'linear', min: 0, max: XMAX, display: true,
          grid: {display: false, drawTicks: false}, border: {display: false},
          ticks: {display: cfg.showX, autoSkip: false, maxRotation: 0, minRotation: 0, padding: cfg.xPad || 10, color: INK, font: {size: 18},
            callback: (v, i) => monthLabels[i]},
          afterBuildTicks: s => { s.ticks = cfg.labelDays.map(v => ({value: v})); },
          afterFit: s => { s.height = cfg.bottom; s.paddingLeft = 0; s.paddingRight = 0; }},
        y: {type: 'linear', min: cfg.ymin, max: cfg.ymax,
          grid: {display: false, drawTicks: false}, border: {display: false},
          ticks: {padding: 6, color: INK, font: {size: 18}, callback: v => String(v)},
          afterBuildTicks: s => { s.ticks = cfg.yTicks.map(v => ({value: v})); },
          afterFit: s => { s.width = 89; s.paddingTop = 0; s.paddingBottom = 0; }}
      }
    },
    plugins: [framePlugin(cfg)]
  });
}

const RED = '#F36B4E';
const dotA = {showLine: false, pointRadius: 3.3, pointBackgroundColor: '#FFEC00', pointBorderColor: '#2b2b2b', pointBorderWidth: 1};

// panel a
mk('ca', {
  top: 5, bottom: 9, showX: false, ymin: -1.731, ymax: 1.846, yTicks: logTicks, labelDays: stdTickDays,
  xMarks: stdTickDays.slice(1, -1), xInward: true, frameColor: '#2a2a2a',
  datasets: [
    Object.assign({data: pts(qDays, logQMeasured)}, dotA),
    {data: pts(qDays, logQLow), borderColor: RED, borderWidth: 1, pointRadius: 0, fill: false},
    {data: pts(qDays, logQHigh), borderColor: RED, borderWidth: 1, pointRadius: 0, fill: '-1', backgroundColor: RED}
  ]
});

// panel b (same record, linear units)
mk('cb', {
  top: 8, bottom: 36, showX: true, xPad: 13, ymin: 0, ymax: 50.8, yTicks: qTicks, labelDays: bLabelDays,
  xMarks: stdTickDays, xInward: false, frameColor: '#2a2a2a',
  datasets: [
    Object.assign({data: pts(qDays, logQMeasured.map(toQ))}, dotA),
    {data: pts(qDays, logQLow.map(toQ)), borderColor: RED, borderWidth: 1, pointRadius: 0, fill: false},
    {data: pts(qDays, logQHigh.map(toQ)), borderColor: RED, borderWidth: 1, pointRadius: 0, fill: '-1', backgroundColor: RED}
  ]
});

// panel c
mk('cc', {
  top: 9, bottom: 37, showX: true, xPad: 10, ymin: 0, ymax: 400, yTicks: snowTicks, labelDays: cLabelDays,
  xMarks: snowTickDays, xInward: false, frameColor: '#2a2a2a',
  datasets: [
    {data: pts(snowObsDays, snowObsVals), showLine: false, pointRadius: 4.6, pointBackgroundColor: '#FFF200', pointBorderColor: '#8f8500', pointBorderWidth: 0.8},
    {data: pts(snowModDays, snowModVals), borderColor: '#2E3192', borderWidth: 1.2, pointRadius: 0, fill: false, spanGaps: false}
  ]
});

// panel d
mk('cd', {
  top: 10, bottom: 32, showX: true, xPad: 10, ymin: -90, ymax: -36.7, yTicks: dTicks, labelDays: dLabelDays,
  xMarks: stdTickDays, xInward: false, frameColor: '#4a4a4a', vline: validationDay,
  datasets: [
    {data: pts(weeklyDays, weeklyVals), borderColor: '#F29A80', borderWidth: 1, pointRadius: 4.6,
     pointBackgroundColor: '#EF8B6E', pointBorderColor: '#C9694F', pointBorderWidth: 0.8, fill: false, spanGaps: false},
    {data: pts(biweeklyDays, biweeklyVals), borderColor: '#FBB92F', borderWidth: 1, pointRadius: 4.6,
     pointBackgroundColor: '#FDC640', pointBorderColor: '#D9A02A', pointBorderWidth: 0.8, fill: false},
    {data: pts(dBestDays, dBestVals), borderColor: '#2B2E8C', borderWidth: 3, pointRadius: 0, fill: false},
    {data: pts(dBandDays, dBandLow), borderColor: '#C6DEF3', borderWidth: 1, pointRadius: 0, fill: false},
    {data: pts(dBandDays, dBandHigh), borderColor: '#C6DEF3', borderWidth: 1, pointRadius: 0, fill: '-1', backgroundColor: '#C6DEF3'}
  ]
});
</script>
</body></html>
